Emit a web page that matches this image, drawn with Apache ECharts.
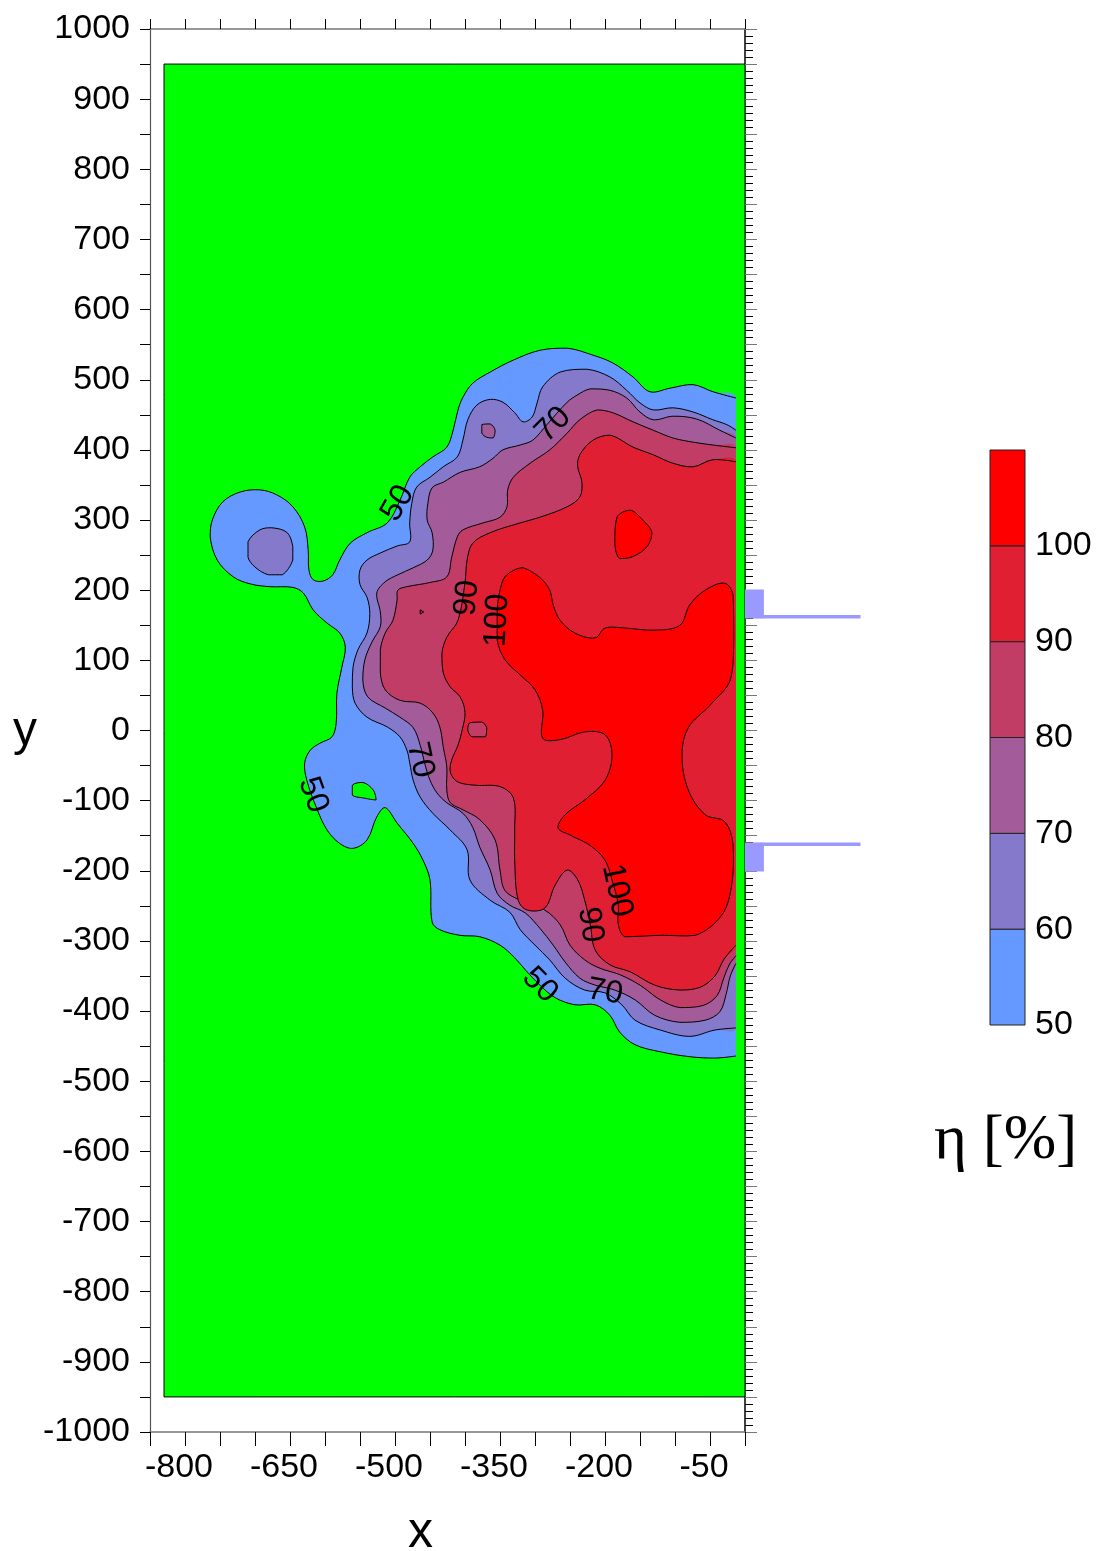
<!DOCTYPE html>
<html><head><meta charset="utf-8">
<script src="https://cdn.jsdelivr.net/npm/echarts@6/dist/echarts.min.js"></script>
<style>html,body{margin:0;padding:0;background:#fff}#c{width:1099px;height:1551px}</style>
</head><body><div id="c"></div>
<script>
// ---- axis / tick data ----
const xLabelValues = [-800, -650, -500, -350, -200, -50];
const levelValues = [50, 60, 70, 80, 90, 100, 110];
const levelColors = ['#6699FF', '#8579CC', '#A35C99', '#C23D66', '#E01F33', '#FF0000'];
const fieldColor = '#00FF00';
const fieldBox = [[-830, 950], [0, 950], [0, -950], [-830, -950]];

// ---- contour lines (data units, x / y) ----
const c50 = [[-13,474],[-46,483],[-74,493],[-107,488],[-136,483],[-160,504],[-189,524],[-217,535],[-254,545],[-293,542],[-331,528],[-364,511],[-389,495],[-403,475],[-410,457],[-417,428],[-426,404],[-446,390],[-464,376],[-479,361],[-493,328],[-511,296],[-540,282],[-564,267],[-579,243],[-589,222],[-603,213],[-617,215],[-623,229],[-624,257],[-629,290],[-646,319],[-669,336],[-693,343],[-721,340],[-746,326],[-761,300],[-764,276],[-754,243],[-731,219],[-707,209],[-679,205],[-646,204],[-631,196],[-617,172],[-597,153],[-579,139],[-571,119],[-576,90],[-583,53],[-584,11],[-590,-9],[-607,-18],[-621,-28],[-629,-46],[-626,-71],[-611,-113],[-597,-142],[-579,-161],[-560,-168],[-540,-156],[-526,-123],[-514,-110],[-497,-132],[-474,-161],[-460,-185],[-450,-213],[-447,-273],[-436,-284],[-407,-292],[-379,-294],[-350,-306],[-329,-324],[-314,-341],[-293,-363],[-271,-381],[-243,-391],[-214,-391],[-193,-406],[-179,-430],[-157,-448],[-121,-458],[-79,-465],[-43,-467],[-13,-464]];
const hole50 = [[-561,-78],[-546,-74],[-531,-85],[-527,-99],[-546,-96],[-561,-92]];
const c60 = [[-13,428],[-26,436],[-46,443],[-74,454],[-103,460],[-131,457],[-150,467],[-169,485],[-193,504],[-226,515],[-264,511],[-289,490],[-297,467],[-304,447],[-317,440],[-329,453],[-346,468],[-364,472],[-383,464],[-396,443],[-403,414],[-411,390],[-431,376],[-450,361],[-469,347],[-476,324],[-479,296],[-479,269],[-497,263],[-521,253],[-540,243],[-550,229],[-550,208],[-540,190],[-536,167],[-540,139],[-553,115],[-560,90],[-561,62],[-557,39],[-540,19],[-511,5],[-493,-9],[-483,-28],[-479,-46],[-474,-71],[-464,-95],[-446,-118],[-421,-142],[-397,-170],[-393,-213],[-364,-242],[-336,-259],[-321,-284],[-300,-306],[-279,-327],[-257,-353],[-229,-370],[-200,-374],[-176,-391],[-157,-413],[-121,-427],[-79,-436],[-43,-427],[-13,-424]];
const bulb60 = [[-693,286],[-676,289],[-654,282],[-646,262],[-646,243],[-661,222],[-681,222],[-700,233],[-710,247],[-710,269]];
const c70 = [[-13,417],[-36,428],[-69,444],[-103,448],[-131,443],[-150,454],[-169,474],[-193,485],[-221,487],[-240,478],[-254,468],[-283,436],[-303,414],[-321,407],[-346,400],[-360,388],[-379,376],[-407,368],[-431,354],[-447,346],[-453,324],[-454,300],[-447,282],[-446,257],[-454,243],[-474,232],[-496,222],[-514,212],[-526,196],[-521,169],[-521,148],[-533,126],[-543,101],[-546,72],[-539,48],[-514,32],[-493,19],[-474,4],[-464,-21],[-457,-49],[-450,-71],[-440,-89],[-426,-103],[-403,-118],[-389,-138],[-379,-166],[-364,-199],[-354,-232],[-336,-249],[-314,-260],[-293,-282],[-274,-306],[-257,-330],[-236,-353],[-214,-363],[-186,-370],[-157,-384],[-129,-406],[-93,-416],[-57,-413],[-36,-401],[-27,-376],[-21,-350],[-13,-332]];
const island70 = [[-376,436],[-364,437],[-357,428],[-360,417],[-369,418],[-376,424]];
const c80 = [[-13,403],[-46,407],[-74,411],[-103,417],[-131,428],[-160,440],[-189,453],[-211,457],[-236,443],[-254,424],[-279,400],[-307,381],[-331,361],[-339,343],[-340,319],[-350,304],[-374,296],[-403,286],[-411,276],[-419,247],[-426,219],[-450,211],[-483,205],[-496,200],[-497,186],[-503,157],[-514,139],[-521,115],[-521,82],[-514,58],[-493,43],[-464,39],[-446,25],[-436,5],[-431,-24],[-426,-52],[-426,-85],[-421,-103],[-403,-113],[-379,-127],[-357,-156],[-350,-199],[-343,-228],[-321,-242],[-286,-256],[-264,-277],[-250,-306],[-229,-327],[-207,-339],[-179,-348],[-150,-363],[-121,-384],[-93,-395],[-60,-392],[-40,-378],[-30,-352],[-22,-333],[-13,-321]];
const dot90 = [[-464,172],[-459,169],[-464,166]];
const c90 = [[-13,383],[-46,386],[-74,376],[-103,381],[-131,393],[-160,404],[-193,421],[-217,414],[-236,393],[-239,376],[-233,354],[-236,333],[-254,319],[-293,304],[-321,296],[-364,282],[-389,267],[-397,243],[-400,211],[-410,157],[-426,133],[-433,110],[-431,82],[-421,62],[-407,48],[-400,26],[-404,1],[-410,-21],[-419,-42],[-421,-59],[-411,-73],[-386,-78],[-350,-80],[-331,-96],[-329,-142],[-329,-185],[-324,-242],[-311,-256],[-286,-253],[-271,-220],[-254,-199],[-239,-213],[-229,-242],[-221,-277],[-214,-313],[-193,-334],[-164,-344],[-129,-363],[-93,-370],[-64,-366],[-43,-350],[-30,-326],[-13,-306]];
const island80 = [[-393,11],[-376,12],[-369,4],[-371,-9],[-390,-9],[-396,1]];
const c100 = [[-343,219],[-329,229],[-317,232],[-293,218],[-279,200],[-274,179],[-264,157],[-243,139],[-214,132],[-200,146],[-171,146],[-129,143],[-93,150],[-79,179],[-57,200],[-29,210],[-17,193],[-16,129],[-21,72],[-50,36],[-81,4],[-90,-35],[-81,-85],[-57,-120],[-29,-130],[-17,-163],[-19,-220],[-33,-263],[-71,-292],[-121,-292],[-171,-294],[-181,-277],[-181,-249],[-190,-213],[-200,-185],[-221,-164],[-250,-149],[-267,-139],[-257,-120],[-229,-99],[-200,-71],[-190,-35],[-200,-6],[-229,-2],[-264,-13],[-289,-11],[-289,29],[-300,58],[-321,79],[-343,101],[-354,129],[-354,172],[-350,200]];
const island100 = [[-183,304],[-164,314],[-146,300],[-133,282],[-140,262],[-160,248],[-179,245],[-186,267]];

// contour labels: [x, y, text, angle in degrees (counter-clockwise)]
const contourLabels = [
  [-496, 324, '50', 60], [-274, 436, '70', 45], [-397, 189, '90', 85],
  [-354, 157, '100', 87], [-464, -42, '70', -78], [-617, -92, '50', -70],
  [-183, -228, '100', -78], [-221, -277, '90', -82], [-293, -363, '50', -45],
  [-200, -373, '70', -10]
];

// inlet pipes at the right boundary
const pipeRects = [[[0,160],[27,160],[27,201],[0,201]], [[0,-160],[27,-160],[27,-201],[0,-201]]];
const pipeLines = [[[0,162],[165,162]], [[0,-162],[165,-162]]];

const shapes = [
  {pts: fieldBox, fill: fieldColor, open: false, flat: true},
  {pts: c50, fill: levelColors[0], open: true},
  {pts: hole50, fill: fieldColor, open: false},
  {pts: c60, fill: levelColors[1], open: true},
  {pts: bulb60, fill: levelColors[1], open: false},
  {pts: c70, fill: levelColors[2], open: true},
  {pts: island70, fill: levelColors[2], open: false},
  {pts: c80, fill: levelColors[3], open: true},
  {pts: dot90, fill: levelColors[4], open: false, flat: true},
  {pts: c90, fill: levelColors[4], open: true},
  {pts: island80, fill: levelColors[3], open: false},
  {pts: c100, fill: levelColors[5], open: false},
  {pts: island100, fill: levelColors[5], open: false}
];

const FONT = 'Liberation Sans, Arial, sans-serif';
const SMOOTH = 0.35;
const BOX = [[Infinity, Infinity], [-Infinity, -Infinity]];
const chart = echarts.init(document.getElementById('c'), null, {renderer: 'canvas'});

const axisLineStyle = {color: '#777', width: 1.5};
const option = {
  animation: false,
  backgroundColor: '#fff',
  grid: [
    {left: 150, top: 29, width: 595, height: 1403},
    {left: 990, top: 450, width: 35, height: 575}
  ],
  xAxis: [
    {type: 'value', gridIndex: 0, position: 'bottom', min: -850, max: 0, interval: 50,
     axisLine: {show: true, onZero: false, lineStyle: axisLineStyle},
     axisTick: {show: true, length: 14, lineStyle: {color: '#000'}},
     axisLabel: {margin: 19, fontSize: 34, fontFamily: FONT, color: '#000', padding: [0, 12, 0, 0],
       formatter: v => xLabelValues.includes(v) ? String(v) : ''},
     splitLine: {show: false}},
    {type: 'value', gridIndex: 0, position: 'top', min: -850, max: 0, interval: 50,
     axisLine: {show: true, onZero: false, lineStyle: axisLineStyle},
     axisTick: {show: true, length: 10, lineStyle: {color: '#000'}},
     axisLabel: {show: false}, splitLine: {show: false}},
    {type: 'value', gridIndex: 1, min: 0, max: 1, show: false}
  ],
  yAxis: [
    {type: 'value', gridIndex: 0, position: 'left', min: -1000, max: 1000, interval: 50,
     axisLine: {show: true, onZero: false, lineStyle: {color: '#555', width: 1.2}},
     axisTick: {show: true, length: 10, lineStyle: {color: '#000'}},
     axisLabel: {margin: 20, fontSize: 34, fontFamily: FONT, color: '#000',
       formatter: v => (v % 100 === 0) ? String(v) : ''},
     splitLine: {show: false}},
    {type: 'value', gridIndex: 0, position: 'right', min: -1000, max: 1000, interval: 50,
     axisLine: {show: true, onZero: false, lineStyle: {color: '#000', width: 1.5}},
     axisTick: {show: true, length: 12, lineStyle: {color: '#777'}},
     minorTick: {show: true, splitNumber: 5, length: 8, lineStyle: {color: '#000'}},
     axisLabel: {show: false}, splitLine: {show: false}},
    {type: 'value', gridIndex: 1, position: 'right', min: 50, max: 110, interval: 10,
     axisLine: {show: false}, axisTick: {show: false}, splitLine: {show: false},
     axisLabel: {margin: 10, fontSize: 34, fontFamily: FONT, color: '#000',
       formatter: v => v === 110 ? '' : String(v)}}
  ],
  series: [
    {
      type: 'custom', xAxisIndex: 0, yAxisIndex: 0, clip: true, z: 1,
      data: shapes.map((s, i) => [i]),
      encode: {x: -1, y: -1},
      renderItem: (params, api) => {
        const s = shapes[params.dataIndex];
        const pts = s.pts.map(p => api.coord(p));
        const sm = s.flat ? 0 : SMOOTH;
        if (s.open) {
          return {type: 'group', children: [
            {type: 'polygon', shape: {points: pts, smooth: sm, smoothConstraint: BOX}, style: {fill: s.fill}},
            {type: 'polyline', shape: {points: pts, smooth: sm, smoothConstraint: BOX}, style: {fill: null, stroke: '#000', lineWidth: 1}}
          ]};
        }
        return {type: 'polygon', shape: {points: pts, smooth: sm, smoothConstraint: BOX},
          style: {fill: s.fill, stroke: '#000', lineWidth: 1}};
      }
    },
    {
      type: 'custom', xAxisIndex: 0, yAxisIndex: 0, clip: false, z: 3,
      data: contourLabels.map(l => [l[0], l[1]]),
      renderItem: (params, api) => {
        const l = contourLabels[params.dataIndex];
        const p = api.coord([l[0], l[1]]);
        return {type: 'text', x: p[0], y: p[1], rotation: l[3] * Math.PI / 180,
          style: {text: l[2], fontSize: 32, fontFamily: FONT, fill: '#000', align: 'center', verticalAlign: 'middle'}};
      }
    },
    {
      type: 'custom', xAxisIndex: 0, yAxisIndex: 0, clip: false, z: 4,
      data: pipeRects.map((r, i) => [i]),
      encode: {x: -1, y: -1},
      renderItem: (params, api) => {
        const r = pipeRects[params.dataIndex].map(p => api.coord(p));
        const l = pipeLines[params.dataIndex].map(p => api.coord(p));
        return {type: 'group', children: [
          {type: 'polygon', shape: {points: r}, style: {fill: '#9999FF'}},
          {type: 'polyline', shape: {points: l}, style: {stroke: '#9999FF', lineWidth: 3.5, fill: null}}
        ]};
      }
    },
    {
      type: 'custom', xAxisIndex: 2, yAxisIndex: 2, clip: false, z: 2,
      data: levelColors.map((c, i) => [levelValues[i], levelValues[i + 1]]),
      renderItem: (params, api) => {
        const lo = api.value(0), hi = api.value(1);
        const a = api.coord([0, hi]), b = api.coord([1, lo]);
        return {type: 'rect', shape: {x: a[0], y: a[1], width: b[0] - a[0], height: b[1] - a[1]},
          style: {fill: levelColors[params.dataIndex], stroke: '#222', lineWidth: 1}};
      }
    }
  ],
  graphic: [
    {type: 'text', left: 13, top: 708, style: {text: 'y', fontSize: 48, fontFamily: FONT, fill: '#000'}},
    {type: 'text', left: 408, top: 1508, style: {text: 'x', fontSize: 50, fontFamily: FONT, fill: '#000'}},
    {type: 'text', left: 934, top: 1110, style: {text: 'η [%]', fontSize: 63, fontFamily: 'Liberation Serif, Times New Roman, serif', fill: '#000'}}
  ]
};
chart.setOption(option);
</script>
</body></html>
